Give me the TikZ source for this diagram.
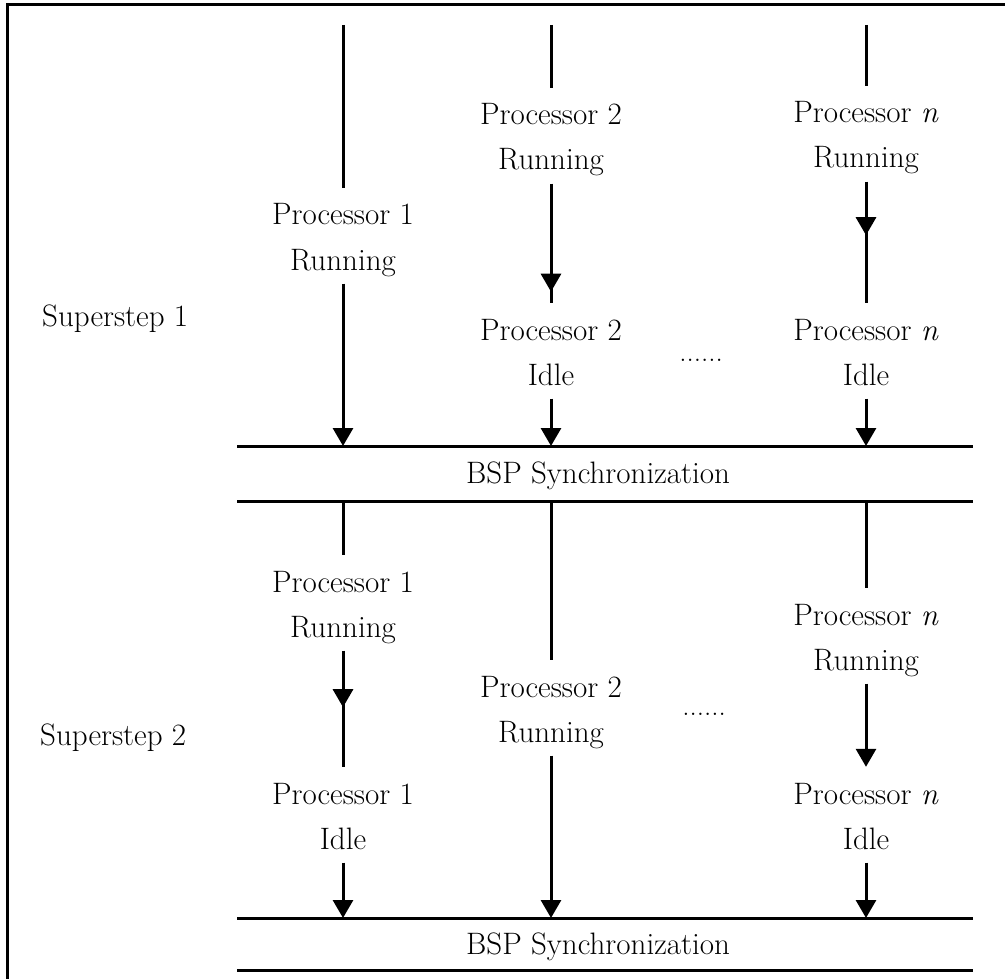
\documentclass[tikz,border=0pt]{standalone}
\usetikzlibrary{arrows.meta,decorations.markings}
\begin{document}
\begin{tikzpicture}[x=1pt,y=-1pt,
  txt/.style={inner sep=0pt, anchor=base, text height=37pt, text depth=13.5pt,
              font=\fontsize{31}{45}\selectfont},
  plain/.style={inner sep=0pt, anchor=base, font=\fontsize{31}{45}\selectfont},
  lbl/.style={inner sep=0pt, anchor=base west, font=\fontsize{31}{45}\selectfont},
  dotrow/.style={inner sep=0pt, anchor=base, font=\fontsize{29}{29}\selectfont},
  flow/.style={line width=3pt},
  tip/.style={-{Triangle[width=20pt,length=18pt]}},
  midtip/.style={postaction={decorate,decoration={markings,
      mark=at position #1 with {\arrow{Triangle[width=20pt,length=18pt]}}}}},
  sync/.style={line width=3pt}
]
\useasboundingbox (0,0) rectangle (1005,979);

% outer frame
\draw[line width=3pt] (7,979) -- (7,5) -- (1005,5);

% barrier lines
\coordinate (s1a) at (237,446); \coordinate (s1b) at (973,446);
\coordinate (s1c) at (237,501); \coordinate (s1d) at (973,501);
\coordinate (s2a) at (237,918); \coordinate (s2b) at (973,918);
\coordinate (s2c) at (237,970); \coordinate (s2d) at (973,970);
\draw[sync] (s1a) -- (s1b);
\draw[sync] (s1c) -- (s1d);
\draw[sync] (s2a) -- (s2b);
\draw[sync] (s2c) -- (s2d);
\node[plain] (bsp1) at (598,483) {BSP Synchronization};
\node[plain] (bsp2) at (598,954) {BSP Synchronization};

% superstep labels
\node[lbl] (ss1) at (42,326) {Superstep 1};
\node[lbl] (ss2) at (40,745) {Superstep 2};

% ---------- superstep 1 ----------
\coordinate (t1) at (343,25);
\coordinate (t2) at (551,25);
\coordinate (tn) at (866,25);

% processor 1
\node[txt] (p1a) at (343,225) {Processor 1};
\node[txt] (p1b) at (343,270) {Running};
\draw[flow] (t1) -- (p1a.north);
\draw[flow,tip] (p1b.south) -- (p1b.south |- s1a);

% processor 2
\node[txt] (p2a) at (551,125) {Processor 2};
\node[txt] (p2b) at (551,170) {Running};
\node[txt] (p2c) at (551,340) {Processor 2};
\node[txt] (p2d) at (551,385) {Idle};
\draw[flow] (t2) -- (p2a.north);
\draw[flow,midtip=108pt] (p2b.south) -- (p2c.north);
\draw[flow,tip] (p2d.south) -- (p2d.south |- s1a);

% processor n
\node[txt] (pna) at (866,123) {Processor \textit{n}};
\node[txt] (pnb) at (866,168) {Running};
\node[txt] (pnc) at (866,340) {Processor \textit{n}};
\node[txt] (pnd) at (866,385) {Idle};
\draw[flow] (tn) -- (pna.north);
\draw[flow,midtip=53.5pt] (pnb.south) -- (pnc.north);
\draw[flow,tip] (pnd.south) -- (pnd.south |- s1a);

\node[dotrow] (dots1) at (701,361) {......};

% ---------- superstep 2 ----------
% processor 1
\node[txt] (q1a) at (343,592) {Processor 1};
\node[txt] (q1b) at (343,637) {Running};
\node[txt] (q1c) at (343,804) {Processor 1};
\node[txt] (q1d) at (343,849) {Idle};
\draw[flow] (q1a.north |- s1c) -- (q1a.north);
\draw[flow,midtip=56.5pt] (q1b.south) -- (q1c.north);
\draw[flow,tip] (q1d.south) -- (q1d.south |- s2a);

% processor 2
\node[txt] (q2a) at (551,697) {Processor 2};
\node[txt] (q2b) at (551,742) {Running};
\draw[flow] (q2a.north |- s1c) -- (q2a.north);
\draw[flow,tip] (q2b.south) -- (q2b.south |- s2a);

% processor n
\node[txt] (qna) at (866,625) {Processor \textit{n}};
\node[txt] (qnb) at (866,670) {Running};
\node[txt] (qnc) at (866,804) {Processor \textit{n}};
\node[txt] (qnd) at (866,849) {Idle};
\draw[flow] (qna.north |- s1c) -- (qna.north);
\draw[flow,tip] (qnb.south) -- (qnc.north);
\draw[flow,tip] (qnd.south) -- (qnd.south |- s2a);

\node[dotrow] (dots2) at (704,715) {......};
\end{tikzpicture}
\end{document}
